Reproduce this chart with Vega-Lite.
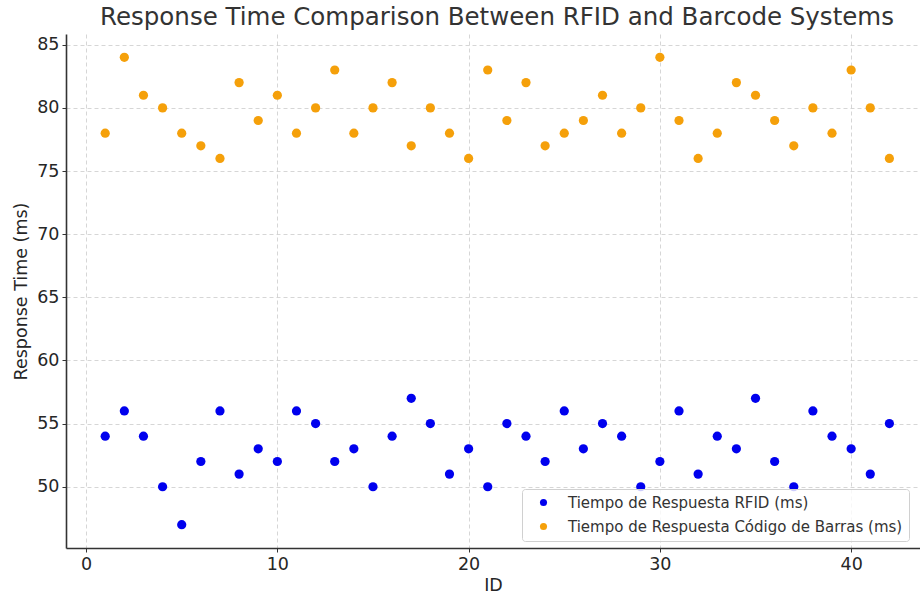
{
  "$schema": "https://vega.github.io/schema/vega-lite/v6.json",
  "width": 854,
  "height": 514,
  "autosize": {"type": "none"},
  "padding": {"left": 66, "top": 34, "right": 0, "bottom": 50},
  "title": {
    "text": "Response Time Comparison Between RFID and Barcode Systems",
    "font": "DejaVu Sans",
    "fontSize": 24.5,
    "fontWeight": "normal",
    "color": "#333333",
    "anchor": "middle",
    "dx": 4,
    "offset": 4
  },
  "config": {
    "view": {"stroke": null},
    "axis": {
      "labelFont": "DejaVu Sans",
      "titleFont": "DejaVu Sans",
      "labelFontSize": 17.5,
      "titleFontSize": 17.5,
      "titleFontWeight": "normal",
      "labelColor": "#262626",
      "titleColor": "#262626",
      "domainColor": "#333333",
      "domainWidth": 1.6,
      "tickColor": "#333333",
      "tickSize": 4,
      "gridColor": "#cccccc",
      "gridDash": [4, 3],
      "gridWidth": 0.8
    }
  },
  "data": {
    "values": [
      {"ID": 1, "rfid": 54, "barcode": 78},
      {"ID": 2, "rfid": 56, "barcode": 84},
      {"ID": 3, "rfid": 54, "barcode": 81},
      {"ID": 4, "rfid": 50, "barcode": 80},
      {"ID": 5, "rfid": 47, "barcode": 78},
      {"ID": 6, "rfid": 52, "barcode": 77},
      {"ID": 7, "rfid": 56, "barcode": 76},
      {"ID": 8, "rfid": 51, "barcode": 82},
      {"ID": 9, "rfid": 53, "barcode": 79},
      {"ID": 10, "rfid": 52, "barcode": 81},
      {"ID": 11, "rfid": 56, "barcode": 78},
      {"ID": 12, "rfid": 55, "barcode": 80},
      {"ID": 13, "rfid": 52, "barcode": 83},
      {"ID": 14, "rfid": 53, "barcode": 78},
      {"ID": 15, "rfid": 50, "barcode": 80},
      {"ID": 16, "rfid": 54, "barcode": 82},
      {"ID": 17, "rfid": 57, "barcode": 77},
      {"ID": 18, "rfid": 55, "barcode": 80},
      {"ID": 19, "rfid": 51, "barcode": 78},
      {"ID": 20, "rfid": 53, "barcode": 76},
      {"ID": 21, "rfid": 50, "barcode": 83},
      {"ID": 22, "rfid": 55, "barcode": 79},
      {"ID": 23, "rfid": 54, "barcode": 82},
      {"ID": 24, "rfid": 52, "barcode": 77},
      {"ID": 25, "rfid": 56, "barcode": 78},
      {"ID": 26, "rfid": 53, "barcode": 79},
      {"ID": 27, "rfid": 55, "barcode": 81},
      {"ID": 28, "rfid": 54, "barcode": 78},
      {"ID": 29, "rfid": 50, "barcode": 80},
      {"ID": 30, "rfid": 52, "barcode": 84},
      {"ID": 31, "rfid": 56, "barcode": 79},
      {"ID": 32, "rfid": 51, "barcode": 76},
      {"ID": 33, "rfid": 54, "barcode": 78},
      {"ID": 34, "rfid": 53, "barcode": 82},
      {"ID": 35, "rfid": 57, "barcode": 81},
      {"ID": 36, "rfid": 52, "barcode": 79},
      {"ID": 37, "rfid": 50, "barcode": 77},
      {"ID": 38, "rfid": 56, "barcode": 80},
      {"ID": 39, "rfid": 54, "barcode": 78},
      {"ID": 40, "rfid": 53, "barcode": 83},
      {"ID": 41, "rfid": 51, "barcode": 80},
      {"ID": 42, "rfid": 55, "barcode": 76}
    ]
  },
  "transform": [
    {"fold": ["rfid", "barcode"], "as": ["series", "ms"]}
  ],
  "mark": {"type": "circle", "size": 85, "opacity": 1, "clip": true},
  "encoding": {
    "x": {
      "field": "ID",
      "type": "quantitative",
      "title": "ID",
      "scale": {"domain": [-1.05, 43.6], "nice": false, "zero": false},
      "axis": {"values": [0, 10, 20, 30, 40], "titlePadding": 4, "labelPadding": 3}
    },
    "y": {
      "field": "ms",
      "type": "quantitative",
      "title": "Response Time (ms)",
      "scale": {"domain": [45.15, 85.85], "nice": false, "zero": false},
      "axis": {"values": [50, 55, 60, 65, 70, 75, 80, 85], "titlePadding": 6, "labelPadding": 3}
    },
    "color": {
      "field": "series",
      "type": "nominal",
      "scale": {"domain": ["rfid", "barcode"], "range": ["#0000ee", "#f5a00a"]},
      "legend": {
        "title": null,
        "orient": "none",
        "legendX": 456,
        "legendY": 455,
        "labelExpr": "datum.value == 'rfid' ? 'Tiempo de Respuesta RFID (ms)' : 'Tiempo de Respuesta Código de Barras (ms)'",
        "labelLimit": 0,
        "labelFont": "DejaVu Sans",
        "labelFontSize": 15,
        "labelColor": "#333333",
        "symbolType": "circle",
        "symbolSize": 50,
        "symbolOpacity": 1,
        "symbolOffset": 8,
        "labelOffset": 17,
        "rowPadding": 8,
        "padding": 6,
        "fillColor": "rgba(255,255,255,0.8)",
        "strokeColor": "#d0d0d0",
        "cornerRadius": 3
      }
    }
  }
}
